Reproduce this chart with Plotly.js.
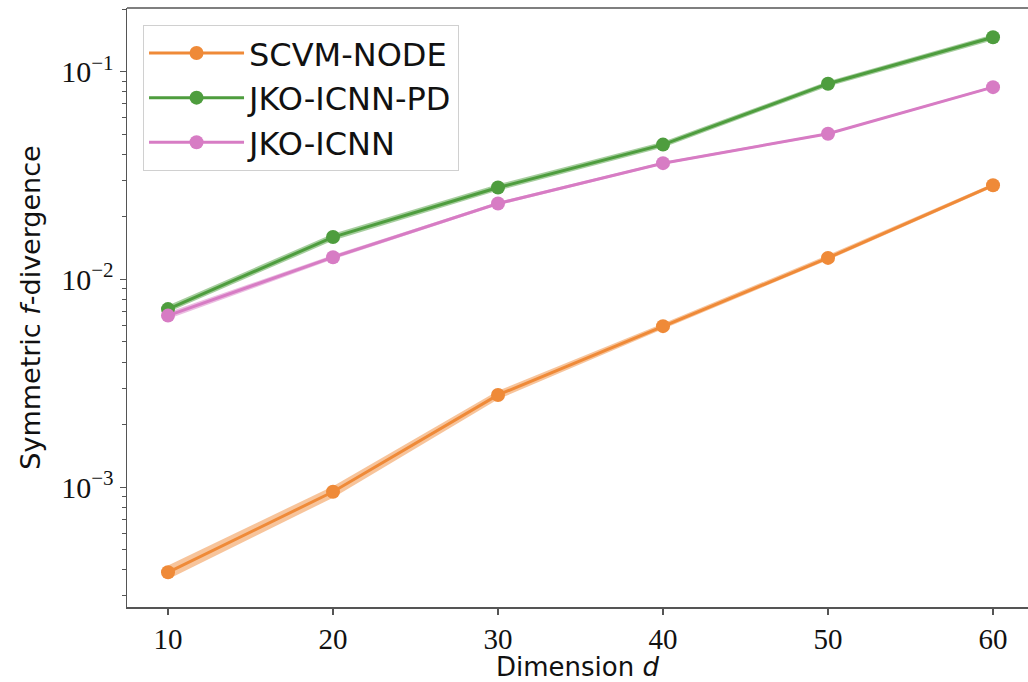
<!DOCTYPE html>
<html>
<head>
<meta charset="utf-8">
<script src="https://cdn.plot.ly/plotly-3.0.1.min.js"></script>
<style>
  html, body { margin: 0; padding: 0; background: #fff; }
  #chart { width: 1028px; height: 682px; }
</style>
</head>
<body>
<div id="chart"></div>
<script>
// ---- data ----
const dims = [10, 20, 30, 40, 50, 60];

const scvmMean  = [3.89e-4, 9.5e-4, 2.78e-3, 5.96e-3, 1.27e-2, 2.84e-2];
const scvmLow   = [3.60e-4, 8.90e-4, 2.65e-3, 5.78e-3, 1.24e-2, 2.78e-2];
const scvmHigh  = [4.20e-4, 1.01e-3, 2.91e-3, 6.14e-3, 1.31e-2, 2.90e-2];

const pdMean    = [7.2e-3, 1.6e-2, 2.77e-2, 4.46e-2, 8.76e-2, 0.1467];
const pdLow     = [6.95e-3, 1.54e-2, 2.68e-2, 4.32e-2, 8.50e-2, 0.1420];
const pdHigh    = [7.50e-3, 1.66e-2, 2.87e-2, 4.60e-2, 9.00e-2, 0.1510];

const icnnMean  = [6.7e-3, 1.28e-2, 2.32e-2, 3.63e-2, 5.03e-2, 8.43e-2];
const icnnLow   = [6.45e-3, 1.25e-2, 2.28e-2, 3.58e-2, 4.97e-2, 8.33e-2];
const icnnHigh  = [6.95e-3, 1.31e-2, 2.36e-2, 3.68e-2, 5.09e-2, 8.53e-2];

const seriesNames = ["SCVM-NODE", "JKO-ICNN-PD", "JKO-ICNN"];
const yTickVals = [1e-3, 1e-2, 1e-1];
const yTickText = ["10<sup>\u22123</sup>", "10<sup>\u22122</sup>", "10<sup>\u22121</sup>"];
const xTitle = "Dimension <i>d</i>";
const yTitle = "Symmetric <i>f</i>-divergence";

// ---- styling ----
const colors = ["#EF8A38", "#4E9D3E", "#D77CC4"];
const bandColors = ["rgba(239,138,56,0.5)", "rgba(78,157,62,0.5)", "rgba(215,124,196,0.5)"];

const means = [scvmMean, pdMean, icnnMean];
const lows = [scvmLow, pdLow, icnnLow];
const highs = [scvmHigh, pdHigh, icnnHigh];

const traces = [];
for (let i = 0; i < 3; i++) {
  traces.push({
    x: dims, y: lows[i], type: "scatter", mode: "lines",
    line: {width: 0, color: bandColors[i]}, showlegend: false, hoverinfo: "skip"
  });
  traces.push({
    x: dims, y: highs[i], type: "scatter", mode: "lines", fill: "tonexty",
    fillcolor: bandColors[i], line: {width: 0, color: bandColors[i]},
    showlegend: false, hoverinfo: "skip"
  });
}
for (let i = 0; i < 3; i++) {
  traces.push({
    x: dims, y: means[i], type: "scatter", mode: "lines+markers",
    name: seriesNames[i], legendgroup: "g" + i,
    line: {color: colors[i], width: 3},
    marker: {color: colors[i], size: 14}
  });
}

// minor tick positions on the log axis
const minorVals = [];
[1e-4, 1e-3, 1e-2, 1e-1].forEach(d => { for (let k = 2; k <= 9; k++) minorVals.push(k * d); });

const spine = "#555";
const layout = {
  width: 1028, height: 682,
  margin: {l: 127, r: 0, t: 8, b: 75},
  paper_bgcolor: "#fff", plot_bgcolor: "#fff",
  showlegend: true,
  legend: {
    x: 0.0178, y: 0.972, xanchor: "left", yanchor: "top",
    traceorder: "normal", tracegroupgap: 11,
    bgcolor: "rgba(255,255,255,0.85)", bordercolor: "#d0d0d0", borderwidth: 1,
    font: {family: "DejaVu Sans", size: 32, color: "#111"},
    itemwidth: 95
  },
  xaxis: {
    range: [7.515, 62.12], tick0: 0, dtick: 10,
    showline: true, linecolor: spine, linewidth: 1.5,
    ticks: "outside", ticklen: 6, tickwidth: 1.2, tickcolor: spine,
    showgrid: false, zeroline: false,
    tickfont: {family: "Liberation Serif", size: 29, color: "#111"},
    title: {text: xTitle, font: {family: "DejaVu Sans", size: 26, color: "#111"}, standoff: 10}
  },
  yaxis: {
    type: "log", range: [-3.577, -0.693],
    tickmode: "array", tickvals: yTickVals, ticktext: yTickText,
    showline: true, linecolor: spine, linewidth: 1.5,
    ticks: "outside", ticklen: 6, tickwidth: 1.2, tickcolor: spine,
    minor: {tickmode: "array", tickvals: minorVals, ticks: "outside", ticklen: 3.5, tickwidth: 1, tickcolor: spine, showgrid: false},
    showgrid: false, zeroline: false,
    tickfont: {family: "Liberation Serif", size: 30, color: "#111"},
    title: {text: yTitle, font: {family: "DejaVu Sans", size: 27, color: "#111"}, standoff: 12}
  },
  shapes: [
    {type: "line", xref: "paper", yref: "paper", x0: 0, x1: 1, y0: 1, y1: 1,
     line: {color: spine, width: 1.5}}
  ]
};

Plotly.newPlot("chart", traces, layout, {displayModeBar: false, staticPlot: true});
</script>
</body>
</html>
